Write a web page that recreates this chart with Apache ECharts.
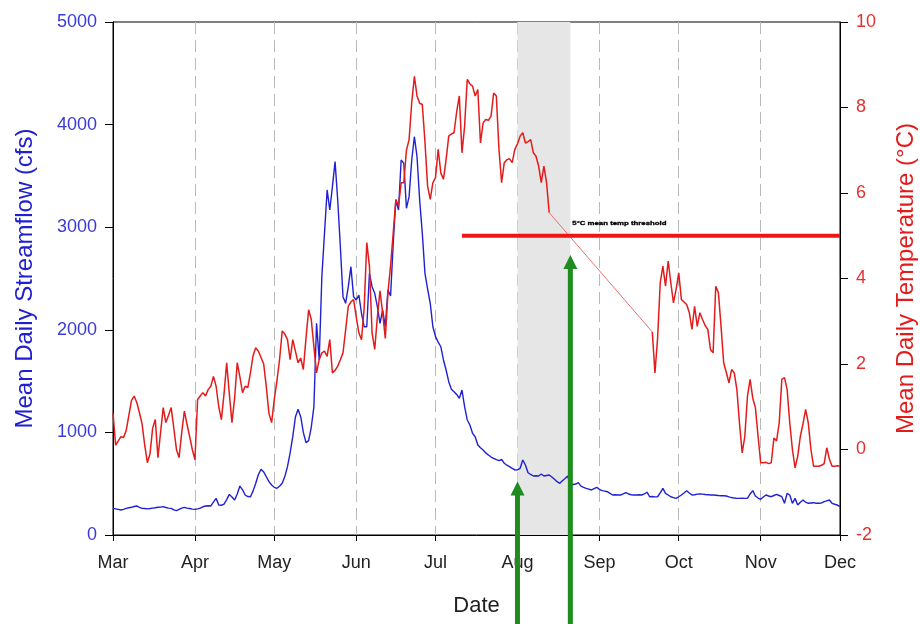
<!DOCTYPE html>
<html>
<head>
<meta charset="utf-8">
<script src="https://cdn.jsdelivr.net/npm/echarts@6/dist/echarts.min.js"></script>
<style>
  html, body { margin: 0; padding: 0; background: #fff; }
  #chart { width: 920px; height: 624px; }
</style>
</head>
<body>
<div id="chart"></div>
<script>
// Month names used for the date axis labels
const MONTH_NAMES = ['Jan', 'Feb', 'Mar', 'Apr', 'May', 'Jun', 'Jul', 'Aug', 'Sep', 'Oct', 'Nov', 'Dec'];

// Axis ranges
const xStart = '2010-03-01';
const xEnd = '2010-12-01';
const flowTicks = [0, 1000, 2000, 3000, 4000, 5000];
const tempTicks = [-2, 0, 2, 4, 6, 8, 10];

// Mean daily streamflow (cfs), one value per day from flowStart
const flowStart = '2010-03-01';
const flowCfs = [
  260, 255, 250, 244, 250, 260, 265, 270, 278, 283,
  270, 260, 258, 255, 258, 262, 265, 270, 272, 276,
  268, 262, 260, 245, 237, 250, 262, 270, 262, 258,
  252, 250, 255, 262, 275, 283, 285, 283, 320, 357,
  292, 290, 300, 345, 396, 370, 341, 400, 477, 440,
  390, 375, 373, 430, 504, 590, 640, 615, 568, 520,
  487, 465, 455, 475, 504, 570, 666, 800, 958, 1150,
  1225, 1153, 1000, 900, 920, 1050, 1251, 2063, 1706, 2518,
  2940, 3363, 3168, 3395, 3639, 3265, 2810, 2323, 2258, 2420,
  2615, 2323, 2291, 2339, 2161, 2030, 2030, 2551, 2420, 2356,
  2225, 2063, 2193, 2030, 2388, 2330, 2843, 3265, 3168, 3655,
  3622, 3184, 3298, 3655, 3882, 3687, 3265, 2940, 2551, 2400,
  2258, 2030, 1933, 1880, 1835, 1706, 1608, 1494, 1420, 1397,
  1370, 1332, 1413, 1251, 1121, 1072, 991, 958, 877, 850,
  828, 800, 780, 760, 747, 735, 724, 737, 699, 680,
  666, 650, 634, 635, 650, 731, 682, 607, 590, 575,
  578, 575, 594, 575, 580, 585, 565, 543, 520, 504,
  529, 550, 575, 487, 492, 497, 510, 477, 465, 455,
  447, 439, 452, 465, 445, 432, 428, 422, 405, 390,
  392, 390, 390, 400, 413, 400, 392, 390, 390, 392,
  390, 400, 417, 373, 375, 372, 373, 410, 455, 406,
  390, 373, 365, 357, 373, 390, 410, 432, 410, 390,
  392, 398, 400, 398, 395, 393, 390, 390, 388, 385,
  383, 382, 380, 372, 365, 360, 357, 357, 358, 357,
  357, 400, 432, 380, 360, 348, 370, 390, 380, 373,
  385, 396, 385, 373, 309, 406, 390, 309, 357, 292,
  320, 341, 320, 309, 312, 315, 310, 309, 312, 325,
  333, 341, 309, 300, 292, 276
];

// Mean daily water temperature (°C) before the record gap
const tempEarlyStart = '2010-03-01';
const tempEarly = [
  0.86, 0.1, 0.2, 0.3, 0.28, 0.45, 0.8, 1.15, 1.25, 1.1,
  0.86, 0.6, 0.1, -0.31, -0.1, 0.5, 0.7, -0.19, 0.4, 0.98,
  0.63, 0.8, 0.98, 0.5, 0.0, -0.19, 0.4, 0.9, 0.59, 0.3,
  0.0, -0.24, 1.17, 1.25, 1.33, 1.25, 1.4, 1.48, 1.71, 1.48,
  1.0, 0.7, 1.3, 2.03, 1.3, 0.63, 1.2, 2.03, 1.7, 1.33,
  1.48, 1.45, 1.8, 2.2, 2.38, 2.3, 2.15, 2.0, 1.46, 0.84,
  0.63, 1.17, 1.6, 2.1, 2.77, 2.7, 2.57, 2.1, 2.57, 2.3,
  2.03, 2.14, 1.87, 2.6, 3.27, 3.04, 2.4, 1.79, 2.1, 2.26,
  2.3, 2.18, 2.57, 1.79, 1.85, 1.95, 2.1, 2.26, 2.8, 3.35,
  3.45, 3.51, 3.1, 2.73, 2.57, 3.3, 4.84, 4.29, 2.73, 2.34,
  3.1, 3.71, 3.2, 2.6, 3.67, 4.3, 5.07, 5.85, 5.69, 6.24,
  6.24, 7.0, 7.25, 8.11, 8.73, 8.27, 8.1, 8.07, 7.2, 6.16,
  5.85, 6.24, 6.36, 7.02, 6.47, 6.32, 6.78, 7.33, 7.38, 7.41,
  7.9, 8.27, 6.94, 7.56, 8.66, 8.55, 8.5, 8.27, 8.42, 7.17,
  7.64, 7.72, 7.7, 7.8, 8.34, 8.27, 7.02, 6.24, 6.71, 6.78,
  6.8, 6.71, 7.02, 7.15, 7.33, 7.41, 7.17, 7.2, 7.25, 6.94,
  6.86, 6.63, 6.24, 6.63, 6.24, 5.54
];

// Mean daily water temperature (°C) after the record gap
const tempLateStart = '2010-09-21';
const tempLate = [
  2.75, 1.79, 2.6, 3.9, 4.29, 3.82, 4.41, 3.9, 3.43, 3.74,
  4.13, 3.51, 3.45, 3.39, 3.2, 2.81, 3.35, 2.88, 3.2, 3.04,
  2.9, 2.81, 2.34, 2.26, 3.82, 3.67, 2.88, 2.03, 1.8, 1.56,
  1.87, 1.79, 1.4, 0.6, -0.08, 0.31, 1.25, 1.64, 1.2, 0.98,
  0.31, -0.31, -0.31, -0.3, -0.33, -0.31, 0.27, 0.2, 0.62, 1.64,
  1.68, 1.4, 0.62, 0.0, -0.43, -0.16, 0.31, 0.6, 0.94, 0.62,
  0.0, -0.39, -0.39, -0.39, -0.37, -0.33, 0.04, -0.23, -0.39, -0.39,
  -0.38, -0.39
];

// Shaded period, 5 °C threshold and the two marked dates
const bandStart = '2010-08-01';
const bandEnd = '2010-08-21';
const thresholdDates = ['2010-07-11', '2010-12-01'];
const thresholdTemp = 5;
const thresholdText = '5°C mean temp threshold';
const arrowDates = ['2010-08-01', '2010-08-21'];
const arrowTipTemps = [-0.75, 4.55];

function parseDay(s) {
  const p = s.split('-').map(Number);
  return new Date(p[0], p[1] - 1, p[2]);
}
function dailySeries(start, values) {
  const d0 = parseDay(start);
  return values.map((v, i) => [new Date(d0.getFullYear(), d0.getMonth(), d0.getDate() + i).getTime(), v]);
}

const flowData = dailySeries(flowStart, flowCfs);
const tempEarlyData = dailySeries(tempEarlyStart, tempEarly);
const tempLateData = dailySeries(tempLateStart, tempLate);
const gapData = [tempEarlyData[tempEarlyData.length - 1], tempLateData[0]];
const thresholdData = thresholdDates.map(d => [parseDay(d).getTime(), thresholdTemp]);

const FONT = 'Liberation Sans, Arial, sans-serif';
const BLUE = '#2020d2';
const RED = '#e41b1b';
const DAY = 86400000;

const chart = echarts.init(document.getElementById('chart'), null, { renderer: 'canvas' });

chart.setOption({
  animation: false,
  backgroundColor: '#ffffff',
  grid: {
    left: 113, right: 80, top: 22, bottom: 89,
    show: true, borderColor: '#000', borderWidth: 1, backgroundColor: 'transparent',
    containLabel: false, outerBoundsMode: 'none'
  },
  xAxis: {
    type: 'time',
    min: parseDay(xStart).getTime(),
    max: parseDay(xEnd).getTime(),
    splitNumber: 9,
    minInterval: 28 * DAY,
    maxInterval: 31 * DAY,
    name: 'Date',
    nameLocation: 'middle',
    nameGap: 60,
    nameMoveOverlap: false,
    nameTextStyle: { fontFamily: FONT, fontSize: 22, color: '#222' },
    axisLine: { show: true, lineStyle: { color: '#000', width: 1 } },
    axisTick: { show: true, inside: false, length: 6, lineStyle: { color: '#000' } },
    axisLabel: {
      fontFamily: FONT, fontSize: 18, color: '#222', margin: 19,
      showMinLabel: true, showMaxLabel: true, hideOverlap: false,
      formatter: v => MONTH_NAMES[new Date(v).getMonth()]
    },
    splitLine: { show: true, lineStyle: { color: '#b8b8b8', width: 1, type: [12, 6] } }
  },
  yAxis: [
    {
      type: 'value', position: 'left',
      min: flowTicks[0], max: flowTicks[flowTicks.length - 1], interval: flowTicks[1] - flowTicks[0],
      name: 'Mean Daily Streamflow (cfs)', nameLocation: 'middle', nameGap: 76, nameMoveOverlap: false,
      nameTextStyle: { fontFamily: FONT, fontSize: 24, color: BLUE },
      axisLine: { show: true, lineStyle: { color: '#000', width: 1 } },
      axisTick: { show: true, inside: false, length: 8, lineStyle: { color: '#000' } },
      axisLabel: { fontFamily: FONT, fontSize: 18, color: '#3a3ad6', margin: 16, formatter: v => String(v) },
      splitLine: { show: false }
    },
    {
      type: 'value', position: 'right',
      min: tempTicks[0], max: tempTicks[tempTicks.length - 1], interval: tempTicks[1] - tempTicks[0],
      name: 'Mean Daily Temperature (°C)', nameLocation: 'middle', nameGap: 54, nameMoveOverlap: false,
      nameTextStyle: { fontFamily: FONT, fontSize: 24, color: RED },
      axisLine: { show: true, lineStyle: { color: '#000', width: 1 } },
      axisTick: { show: true, inside: false, length: 8, lineStyle: { color: '#000' } },
      axisLabel: { fontFamily: FONT, fontSize: 18, color: '#e33030', margin: 16, formatter: v => String(v) },
      splitLine: { show: false }
    }
  ],
  series: [
    {
      name: 'Streamflow', type: 'line', yAxisIndex: 0, data: flowData,
      showSymbol: false, symbol: 'none', z: 3,
      lineStyle: { color: BLUE, width: 1.4 },
      markArea: {
        silent: true, z: 1,
        itemStyle: { color: '#e6e6e6' },
        data: [[{ xAxis: parseDay(bandStart).getTime() }, { xAxis: parseDay(bandEnd).getTime() }]]
      }
    },
    {
      name: 'Temperature', type: 'line', yAxisIndex: 1, data: tempEarlyData,
      showSymbol: false, symbol: 'none', z: 4,
      lineStyle: { color: RED, width: 1.5 }
    },
    {
      name: 'Temperature gap', type: 'line', yAxisIndex: 1, data: gapData,
      showSymbol: false, symbol: 'none', z: 4,
      lineStyle: { color: '#e87070', width: 1 }
    },
    {
      name: 'Temperature late', type: 'line', yAxisIndex: 1, data: tempLateData,
      showSymbol: false, symbol: 'none', z: 4,
      lineStyle: { color: RED, width: 1.5 }
    },
    {
      name: 'Threshold', type: 'line', yAxisIndex: 1, data: thresholdData,
      showSymbol: false, symbol: 'none', z: 5,
      lineStyle: { color: '#f01414', width: 4 }
    }
  ]
});

// Annotations placed through the chart's own scales
const H = chart.getHeight();
const GREEN = '#1f8c1f';
const graphics = [];
arrowDates.forEach((d, i) => {
  const x = chart.convertToPixel({ xAxisIndex: 0 }, parseDay(d).getTime());
  const yTip = chart.convertToPixel({ yAxisIndex: 1 }, arrowTipTemps[i]);
  graphics.push({
    type: 'rect', z: 100,
    shape: { x: x - 2.5, y: yTip + 10, width: 5, height: H - yTip - 10 },
    style: { fill: GREEN }
  });
  graphics.push({
    type: 'polygon', z: 100,
    shape: { points: [[x, yTip], [x - 7, yTip + 14], [x + 7, yTip + 14]] },
    style: { fill: GREEN }
  });
});
const tx = chart.convertToPixel({ xAxisIndex: 0 }, parseDay(bandEnd).getTime());
const ty = chart.convertToPixel({ yAxisIndex: 1 }, thresholdTemp);
graphics.push({
  type: 'text', z: 100,
  x: tx + 2, y: ty - 12, scaleY: 0.8,
  style: {
    text: thresholdText, fill: '#000', font: '900 7.8px ' + FONT,
    stroke: '#000', lineWidth: 0.4,
    verticalAlign: 'middle', align: 'left'
  }
});
chart.setOption({ graphic: graphics });
</script>
</body>
</html>
